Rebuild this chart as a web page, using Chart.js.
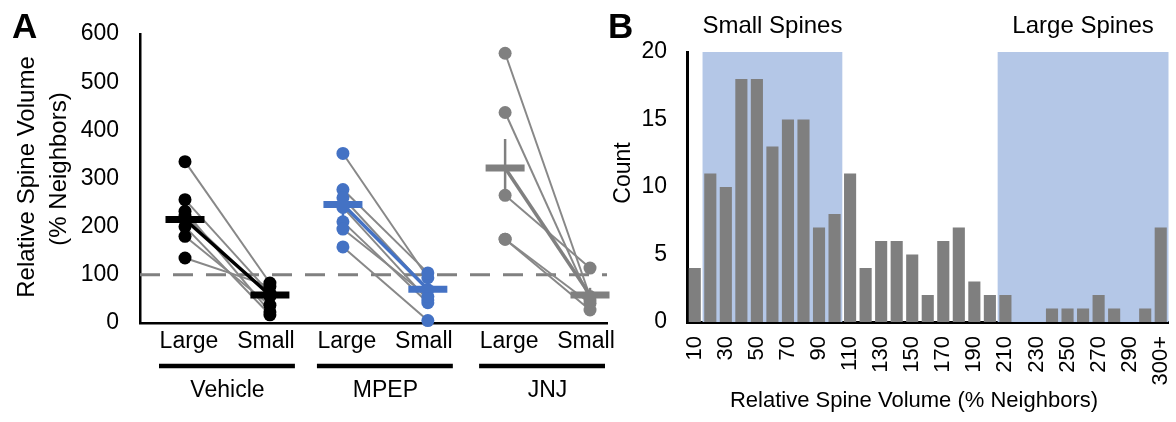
<!DOCTYPE html>
<html>
<head>
<meta charset="utf-8">
<script src="https://cdn.jsdelivr.net/npm/chart.js@4.4.1/dist/chart.umd.min.js"></script>
<style>
  html, body { margin: 0; padding: 0; background: #fff; }
  #wrap { position: relative; width: 1176px; height: 422px; overflow: hidden; }
  .panel { position: absolute; top: 0; height: 422px; }
  #panelA { left: 0; width: 620px; }
  #panelB { left: 600px; width: 576px; }
</style>
</head>
<body>
<div id="wrap">
  <div class="panel" id="panelA"><canvas id="chartA"></canvas></div>
  <div class="panel" id="panelB"><canvas id="chartB"></canvas></div>
</div>
<script>
// ══════════════════════════════════════════
// A — paired spine volumes, B — histogram
// ══════════════════════════════════════════

// ── DATA: panel A ──
const groups = ['Vehicle', 'MPEP', 'JNJ'];
const conditions = ['Large', 'Small'];

const vehicleLarge = [335, 256, 232, 222, 200, 180, 135];
const vehicleSmall = [83, 62, 23, 55, 17, 37, 76];
const mpepLarge = [352, 277, 260, 240, 210, 195, 158];
const mpepSmall = [94, 104, 69, 48, 42, 55, 5];
const jnjLarge = [560, 437, 265, 174, 174];
const jnjSmall = [55, 48, 114, 41, 27];

const meanLarge = [215, 246, 322];
const meanSmall = [58, 70, 58];
const semLarge = [22, 28, 60];
const semSmall = [10, 12, 15];

const yTicksA = [0, 100, 200, 300, 400, 500, 600];
const refLine = 100;

// ── DATA: panel B ──
const bins = ['10', '20', '30', '40', '50', '60', '70', '80', '90', '100',
  '110', '120', '130', '140', '150', '160', '170', '180', '190', '200',
  '210', '220', '230', '240', '250', '260', '270', '280', '290', '300', '300+'];
const counts = [4, 11, 10, 18, 18, 13, 15, 15, 7, 8,
  11, 4, 6, 6, 5, 2, 6, 7, 3, 2,
  2, 0, 0, 1, 1, 1, 2, 1, 0, 1, 7];
const bands = [
  { label: 'Small Spines', from: '20', to: '100' },
  { label: 'Large Spines', from: '210', to: '300+' },
];

// ── STYLE ──
const FONT = "'Liberation Sans', Arial, sans-serif";
const groupColors = ['#000000', '#4472c4', '#808080'];
const lineGray = '#888888';
const barGray = '#7f7f7f';
const bandBlue = '#b4c7e7';
const largePos = [0.53, 2.39, 4.30]; // x slot of each group's "Large" column

const largeVals = [vehicleLarge, mpepLarge, jnjLarge];
const smallVals = [vehicleSmall, mpepSmall, jnjSmall];

// ── PANEL A ──

function buildDatasetsA() {
  const ds = [];
  groups.forEach((g, gi) => {
    const xL = largePos[gi];
    const xS = largePos[gi] + 1;
    const L = largeVals[gi];
    const S = smallVals[gi];
    const col = groupColors[gi];

    // pares individuais
    L.forEach((v, i) => {
      ds.push({
        data: [{ x: xL, y: v }, { x: xS, y: S[i] }],
        showLine: true, borderColor: lineGray, borderWidth: 2,
        pointRadius: 0, order: 6,
      });
    });

    // linha das médias
    ds.push({
      data: [{ x: xL, y: meanLarge[gi] }, { x: xS, y: meanSmall[gi] }],
      showLine: true, borderColor: col, borderWidth: 3.5,
      pointRadius: 0, order: 5,
    });

    // barras de erro
    [[xL, meanLarge[gi], semLarge[gi]], [xS, meanSmall[gi], semSmall[gi]]].forEach(([x, m, s]) => {
      ds.push({
        data: [{ x, y: m - s }, { x, y: m + s }],
        showLine: true, borderColor: col, borderWidth: 2.5,
        pointRadius: 0, order: 4,
      });
    });

    // pontos
    ds.push({
      data: [...L.map(v => ({ x: xL, y: v })), ...S.map(v => ({ x: xS, y: v }))],
      pointRadius: 6.5, pointBackgroundColor: col, pointBorderWidth: 0,
      order: 3, clip: false,
    });

    // cruz da média
    ds.push({
      data: [{ x: xL, y: meanLarge[gi] }, { x: xS, y: meanSmall[gi] }],
      pointStyle: 'line', pointRadius: 19.5, pointBorderColor: col,
      pointBorderWidth: 7, order: 1, clip: false,
    });
  });

  // linha tracejada de referência
  ds.push({
    data: [{ x: 0, y: refLine }, { x: 5.5, y: refLine }],
    showLine: true, borderColor: '#808080', borderWidth: 3,
    borderDash: [20, 13], pointRadius: 0, order: 7,
  });
  return ds;
}

const decorA = {
  id: 'decorA',
  afterDraw(chart) {
    const { ctx, chartArea, scales: { x } } = chart;
    ctx.save();
    ctx.fillStyle = '#000';
    ctx.strokeStyle = '#000';
    ctx.textAlign = 'center';
    ctx.textBaseline = 'alphabetic';
    ctx.font = `23px ${FONT}`;

    groups.forEach((g, gi) => {
      const pL = x.getPixelForValue(largePos[gi]);
      const pS = x.getPixelForValue(largePos[gi] + 1);
      ctx.fillText(conditions[0], pL + 4, 348);
      ctx.fillText(conditions[1], pS - 4, 348);

      ctx.lineWidth = 4.5;
      ctx.beginPath();
      ctx.moveTo(pL - 26, 366);
      ctx.lineTo(Math.min(pS + 25, chartArea.right - 2), 366);
      ctx.stroke();

      ctx.fillText(g, (pL + pS) / 2, 397);
    });

    // título do eixo Y
    ctx.font = `24px ${FONT}`;
    ctx.textBaseline = 'middle';
    ctx.save();
    ctx.translate(27.5, 177);
    ctx.rotate(-Math.PI / 2);
    ctx.fillText('Relative Spine Volume', 0, 0);
    ctx.restore();
    ctx.save();
    ctx.translate(59, 169);
    ctx.rotate(-Math.PI / 2);
    ctx.fillText('(% Neighbors)', 0, 0);
    ctx.restore();

    // letra do painel
    ctx.font = `bold 35px ${FONT}`;
    ctx.textAlign = 'left';
    ctx.textBaseline = 'alphabetic';
    ctx.fillText('A', 12, 38);
    ctx.restore();
  },
};

const chartA = new Chart(document.getElementById('chartA'), {
  type: 'scatter',
  data: { datasets: buildDatasetsA() },
  options: {
    responsive: true,
    maintainAspectRatio: false,
    animation: false,
    events: [],
    layout: { autoPadding: false, padding: { top: 34, right: 13, left: 0, bottom: 0 } },
    plugins: { legend: { display: false }, tooltip: { enabled: false } },
    scales: {
      x: {
        type: 'linear', min: 0, max: 5.5,
        grid: { display: false, drawTicks: false },
        border: { display: true, color: '#000', width: 2.5 },
        ticks: { display: false },
        afterFit: s => { s.height = 99; s.paddingLeft = 0; s.paddingRight = 0; },
      },
      y: {
        min: yTicksA[0], max: yTicksA[yTicksA.length - 1],
        afterBuildTicks: s => { s.ticks = yTicksA.map(v => ({ value: v })); },
        grid: { display: false, drawTicks: false },
        border: { display: true, color: '#000', width: 2.5 },
        ticks: { color: '#000', padding: 21, font: { size: 23, family: FONT } },
        afterFit: s => { s.width = 140; s.paddingTop = 0; s.paddingBottom = 0; },
      },
    },
  },
  plugins: [decorA],
});

// ── PANEL B ──

const decorB = {
  id: 'decorB',
  beforeDatasetsDraw(chart) {
    const { ctx, scales: { x, y } } = chart;
    const half = x.width / bins.length / 2;
    ctx.save();
    ctx.fillStyle = bandBlue;
    bands.forEach(b => {
      const x1 = x.getPixelForValue(bins.indexOf(b.from)) - half;
      const x2 = x.getPixelForValue(bins.indexOf(b.to)) + half;
      const top = y.getPixelForValue(20);
      const bot = y.getPixelForValue(0);
      ctx.fillRect(x1, top, x2 - x1, bot - top);
    });
    ctx.restore();
  },
  afterDraw(chart) {
    const { ctx, scales: { x } } = chart;
    const half = x.width / bins.length / 2;
    ctx.save();
    ctx.fillStyle = '#000';
    ctx.textAlign = 'center';
    ctx.textBaseline = 'alphabetic';
    ctx.font = `24px ${FONT}`;
    bands.forEach(b => {
      const x1 = x.getPixelForValue(bins.indexOf(b.from)) - half;
      const x2 = x.getPixelForValue(bins.indexOf(b.to)) + half;
      ctx.fillText(b.label, (x1 + x2) / 2, 33);
    });

    ctx.font = `22px ${FONT}`;
    ctx.textBaseline = 'middle';
    ctx.fillText('Relative Spine Volume (% Neighbors)', 314, 401);

    ctx.save();
    ctx.font = `23px ${FONT}`;
    ctx.translate(24, 173);
    ctx.rotate(-Math.PI / 2);
    ctx.fillText('Count', 0, 0);
    ctx.restore();

    ctx.font = `bold 35px ${FONT}`;
    ctx.textAlign = 'left';
    ctx.textBaseline = 'alphabetic';
    ctx.fillText('B', 8, 38);
    ctx.restore();
  },
};

const chartB = new Chart(document.getElementById('chartB'), {
  type: 'bar',
  data: {
    labels: bins,
    datasets: [{
      data: counts,
      backgroundColor: barGray,
      borderWidth: 0,
      categoryPercentage: 0.78,
      barPercentage: 1,
    }],
  },
  options: {
    responsive: true,
    maintainAspectRatio: false,
    animation: false,
    events: [],
    layout: { autoPadding: false, padding: { top: 52, right: 7.5, left: 0, bottom: 0 } },
    plugins: { legend: { display: false }, tooltip: { enabled: false } },
    scales: {
      x: {
        grid: { display: false, drawTicks: false },
        border: { display: true, color: '#000', width: 3 },
        ticks: {
          autoSkip: false, minRotation: 90, maxRotation: 90, padding: 14,
          color: '#000', font: { size: 22, family: FONT },
          callback(v, i) { return i % 2 === 0 ? this.getLabelForValue(v) : ''; },
        },
        afterFit: s => { s.height = 100; s.paddingLeft = 0; s.paddingRight = 0; },
      },
      y: {
        min: 0, max: 20,
        grid: { display: false, drawTicks: false },
        border: { display: true, color: '#000', width: 3 },
        ticks: { stepSize: 5, color: '#000', padding: 20, font: { size: 23, family: FONT } },
        afterFit: s => { s.width = 87; s.paddingTop = 0; s.paddingBottom = 0; },
      },
    },
  },
  plugins: [decorB],
});
</script>
</body>
</html>
